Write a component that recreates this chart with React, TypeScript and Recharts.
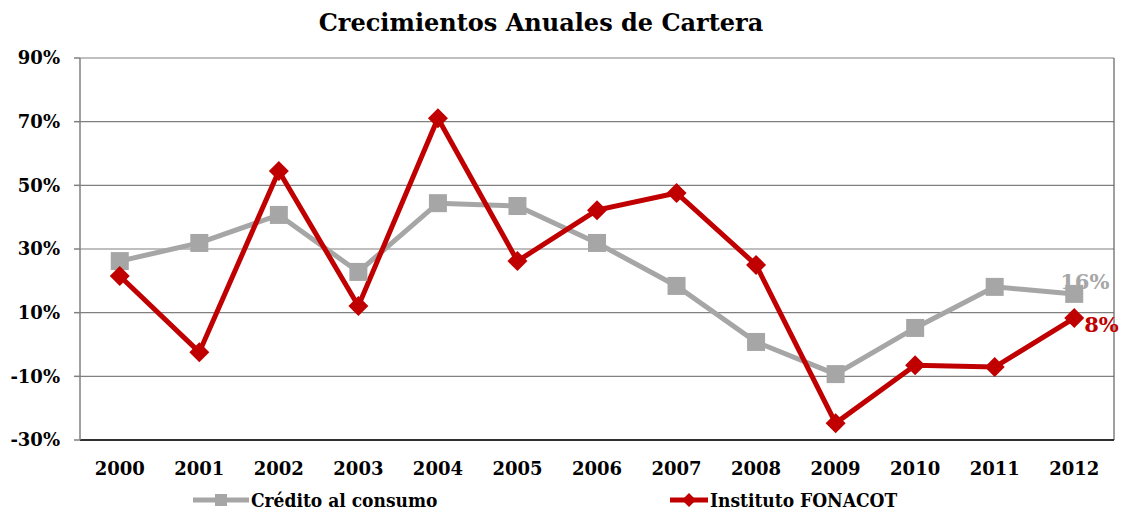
import { LineChart, Line, XAxis, YAxis, CartesianGrid, ReferenceLine, LabelList } from "recharts";

const years = ["2000", "2001", "2002", "2003", "2004", "2005", "2006", "2007", "2008", "2009", "2010", "2011", "2012"];
const creditoConsumo = [26.2, 31.9, 40.7, 22.8, 44.4, 43.5, 31.9, 18.4, 0.8, -9.3, 5.2, 18.1, 15.9];
const fonacot = [21.5, -2.4, 54.5, 12.1, 71.1, 26.2, 42.2, 47.6, 25.0, -24.7, -6.5, -7.1, 8.3];
const yTicks = [-30, -10, 10, 30, 50, 70, 90];
const boundaryTicks = [-0.5, 0.5, 1.5, 2.5, 3.5, 4.5, 5.5, 6.5, 7.5, 8.5, 9.5, 10.5, 11.5, 12.5];

const GRAY = "#A6A6A6";
const RED = "#C00000";
const FONT = "'DejaVu Serif', serif";

const data = years.map((y, i) => ({ idx: i, year: y, credito: creditoConsumo[i], fonacot: fonacot[i] }));

const Square = (props: any) => {
  const { cx, cy } = props;
  if (cx == null || cy == null) return null;
  return <rect x={cx - 9} y={cy - 9} width={18} height={18} fill={GRAY} />;
};

const Diamond = (props: any) => {
  const { cx, cy } = props;
  if (cx == null || cy == null) return null;
  return <path d={`M${cx},${cy - 10} L${cx + 10},${cy} L${cx},${cy + 10} L${cx - 10},${cy} Z`} fill={RED} />;
};

const lastLabel = (color: string, dx: number, dy: number) => (props: any) => {
  const { x, y, index, value } = props;
  if (index !== years.length - 1) return null;
  return (
    <text x={x + dx} y={y + dy} fill={color} fontFamily={FONT} fontWeight="bold" fontSize={21} textAnchor="start">
      {Math.round(value)}%
    </text>
  );
};

const legendFont = { fontFamily: "'DejaVu Serif Condensed', 'DejaVu Serif', serif", fontStretch: "condensed" as const, fontWeight: "bold" as const, fontSize: 19 };

export default function App() {
  return (
    <div style={{ position: "absolute", left: 0, top: 0, width: 1127, height: 514, background: "#fff" }}>
      <div style={{ position: "absolute", left: 0, top: 8, width: 1082, textAlign: "center", fontFamily: FONT, fontWeight: "bold", fontSize: 24 }}>
        Crecimientos Anuales de Cartera
      </div>
      <LineChart width={1127} height={514} data={data} margin={{ top: 58, right: 13, left: 0, bottom: 44 }}>
        <CartesianGrid vertical={false} stroke="#808080" strokeWidth={1.2} />
        <XAxis
          xAxisId="labels"
          dataKey="idx"
          type="number"
          domain={[-0.5, 12.5]}
          ticks={years.map((_, i) => i)}
          tickFormatter={(v: number) => years[v]}
          tickLine={false}
          axisLine={{ stroke: "#000", strokeWidth: 1.5 }}
          tick={{ fill: "#000", fontFamily: FONT, fontWeight: "bold", fontSize: 18 }}
          tickMargin={16}
          interval={0}
          height={30}
        />
        <XAxis
          xAxisId="bounds"
          dataKey="idx"
          type="number"
          domain={[-0.5, 12.5]}
          ticks={boundaryTicks}
          tick={false}
          tickLine={{ stroke: "#808080", strokeWidth: 1.5 }}
          tickSize={6}
          axisLine={false}
          height={0}
          orientation="bottom"
        />
        <YAxis
          domain={[-30, 90]}
          ticks={yTicks}
          tickFormatter={(v: number) => `${v}%`}
          width={80}
          axisLine={{ stroke: "#808080", strokeWidth: 1.5 }}
          tickLine={{ stroke: "#808080", strokeWidth: 1.5 }}
          tickSize={6}
          tickMargin={14}
          tick={{ fill: "#000", fontFamily: FONT, fontWeight: "bold", fontSize: 18 }}
          interval={0}
        />
        <ReferenceLine xAxisId="labels" x={12.5} stroke="#606060" strokeWidth={1.2} />
        <Line
          xAxisId="labels"
          dataKey="credito"
          stroke={GRAY}
          strokeWidth={5}
          dot={<Square />}
          activeDot={false}
          isAnimationActive={false}
          name="Crédito al consumo"
        >
          <LabelList dataKey="credito" content={lastLabel(GRAY, -14, -5)} />
        </Line>
        <Line
          xAxisId="labels"
          dataKey="fonacot"
          stroke={RED}
          strokeWidth={5}
          dot={<Diamond />}
          activeDot={false}
          isAnimationActive={false}
          name="Instituto FONACOT"
        >
          <LabelList dataKey="fonacot" content={lastLabel(RED, 10, 14)} />
        </Line>
      </LineChart>
      <div style={{ position: "absolute", left: 193, top: 489, display: "flex", alignItems: "center", ...legendFont }}>
        <svg width={56} height={22}>
          <line x1={0} y1={11} x2={56} y2={11} stroke={GRAY} strokeWidth={5} />
          <rect x={22} y={5} width={12} height={12} fill={GRAY} />
        </svg>
        <span style={{ marginLeft: 2 }}>Crédito al consumo</span>
      </div>
      <div style={{ position: "absolute", left: 670, top: 489, display: "flex", alignItems: "center", ...legendFont }}>
        <svg width={38} height={22}>
          <line x1={0} y1={11} x2={38} y2={11} stroke={RED} strokeWidth={5} />
          <path d="M19,4 L26,11 L19,18 L12,11 Z" fill={RED} />
        </svg>
        <span style={{ marginLeft: 2 }}>Instituto FONACOT</span>
      </div>
    </div>
  );
}
